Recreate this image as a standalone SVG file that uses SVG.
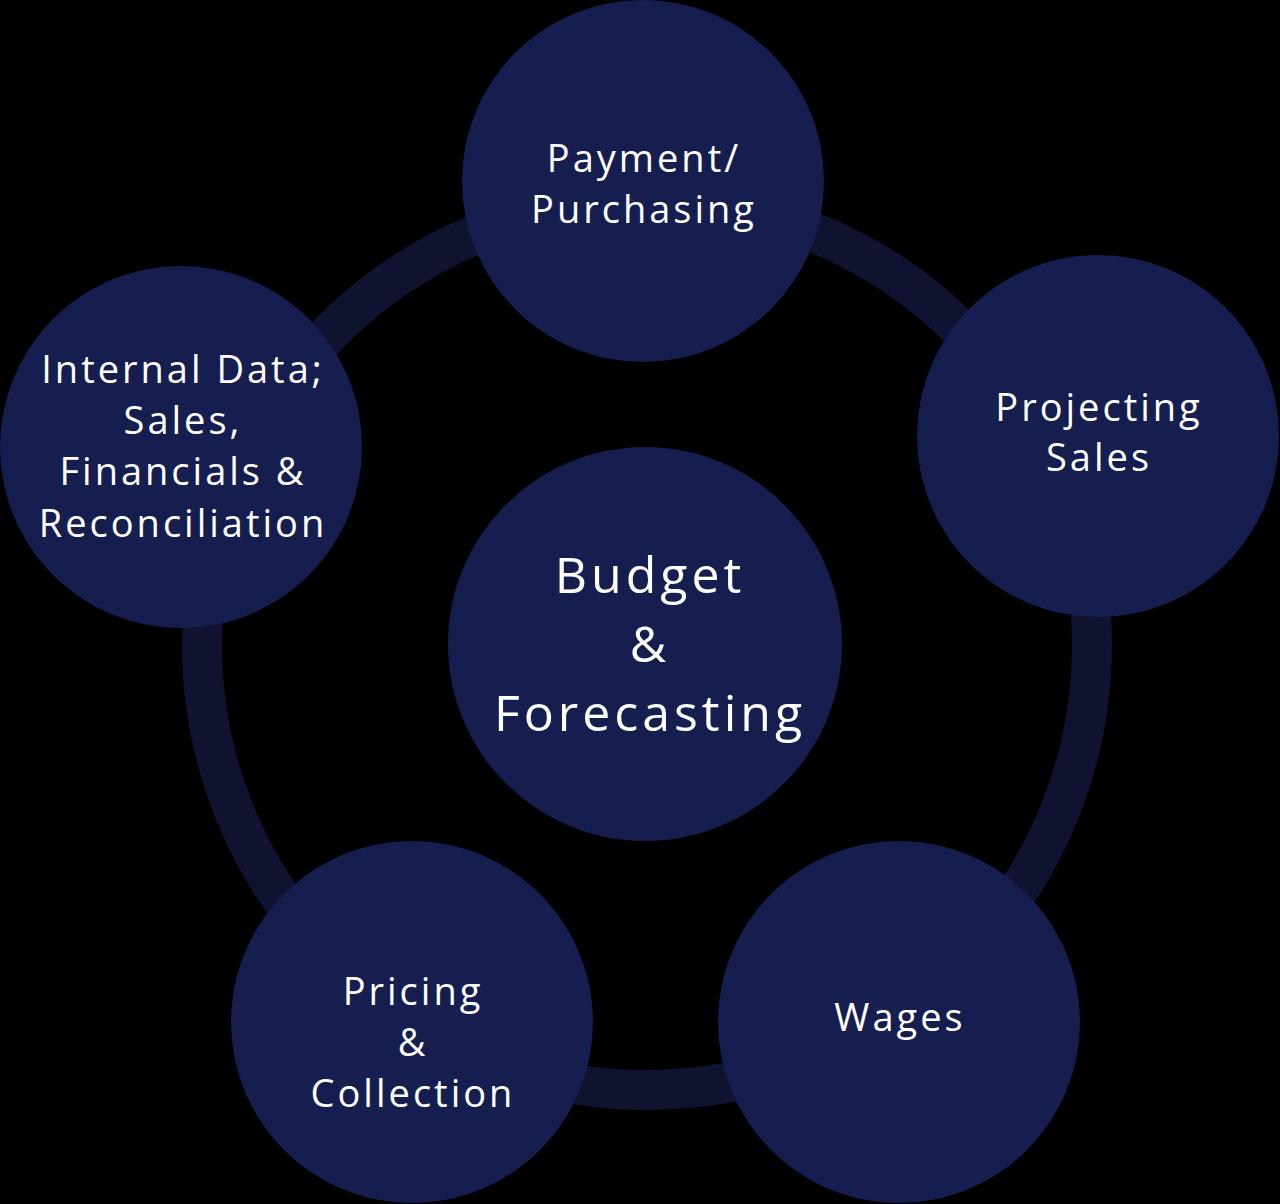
<svg xmlns="http://www.w3.org/2000/svg" width="1280" height="1204" viewBox="0 0 1280 1204">
<style>
.node{fill:#161d4f}
.t{fill:#ffffff;font-family:"Open Sans","Noto Sans",sans-serif;text-anchor:middle}
.s{font-size:38px;letter-spacing:3px}
.b{font-size:50px;letter-spacing:4px}
</style>
<rect width="1280" height="1204" fill="#000000"/>
<g id="connectors">
<circle cx="647" cy="645" r="445" fill="none" stroke="#0f1330" stroke-width="40"/>
</g>
<g id="payment">
<circle class="node" cx="643" cy="181" r="181"/>
<text class="t s" x="644" y="172">Payment/</text>
<text class="t s" x="644" y="223">Purchasing</text>
</g>
<g id="projecting">
<circle class="node" cx="1098" cy="436" r="181"/>
<text class="t s" x="1099" y="421">Projecting</text>
<text class="t s" x="1099" y="471">Sales</text>
</g>
<g id="internal">
<circle class="node" cx="181" cy="447" r="181"/>
<text class="t s" x="183" y="383">Internal Data;</text>
<text class="t s" x="183" y="434">Sales,</text>
<text class="t s" x="183" y="485">Financials &amp;</text>
<text class="t s" x="183" y="537">Reconciliation</text>
</g>
<g id="pricing">
<circle class="node" cx="412" cy="1022" r="181"/>
<text class="t s" x="413" y="1005">Pricing</text>
<text class="t s" x="413" y="1056">&amp;</text>
<text class="t s" x="413" y="1107">Collection</text>
</g>
<g id="wages">
<circle class="node" cx="899" cy="1022" r="181"/>
<text class="t s" x="900" y="1031">Wages</text>
</g>
<g id="budget">
<circle class="node" cx="645" cy="644" r="197"/>
<text class="t b" x="650" y="593">Budget</text>
<text class="t b" x="650" y="662">&amp;</text>
<text class="t b" x="650" y="731">Forecasting</text>
</g>
</svg>
